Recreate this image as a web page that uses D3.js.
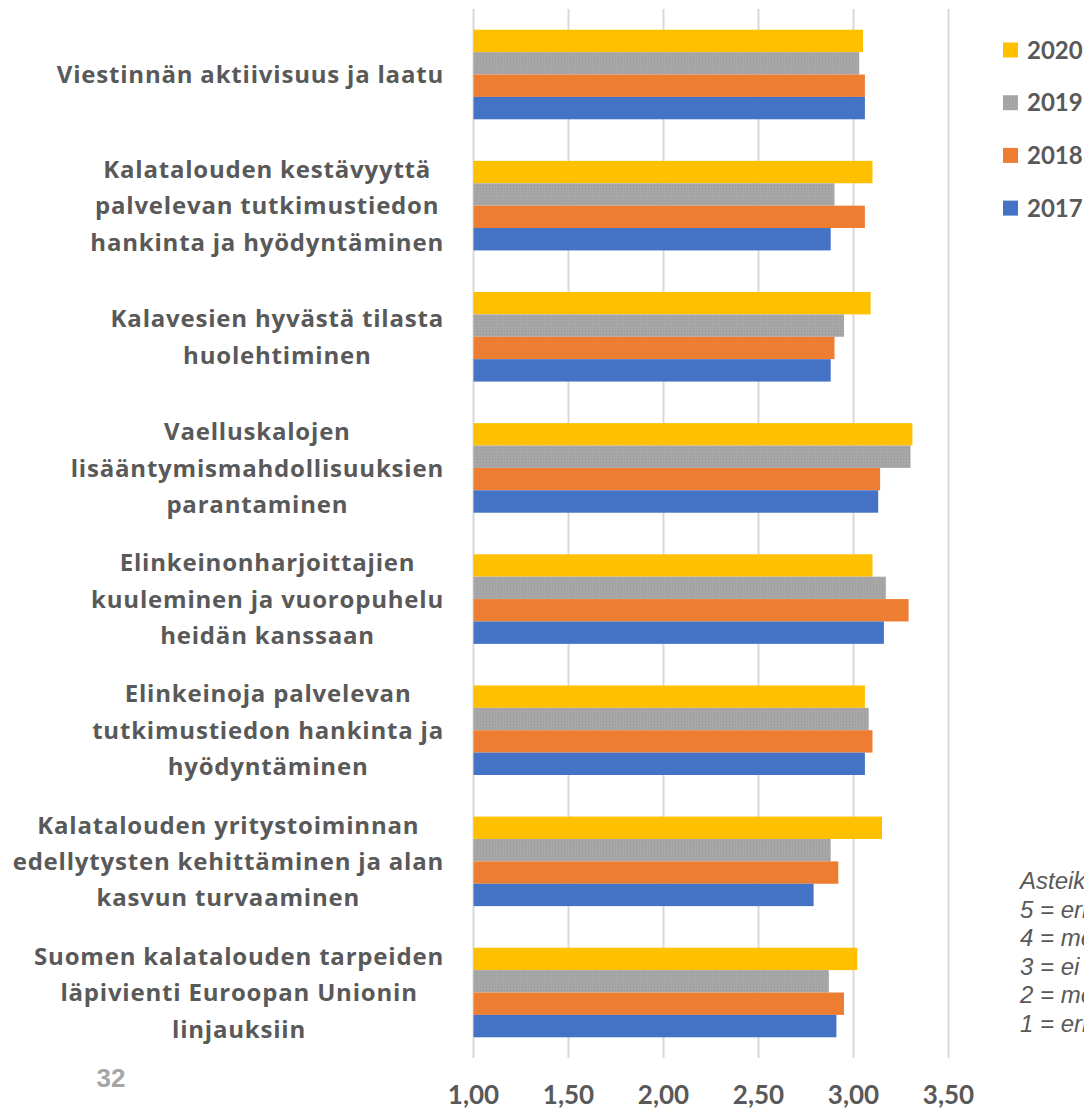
<!DOCTYPE html>
<html>
<head>
<meta charset="utf-8">
<script src="https://cdnjs.cloudflare.com/ajax/libs/d3/7.8.5/d3.min.js"></script>
<style>
  body { margin: 0; background: #fff; }
  svg { display: block; }
</style>
</head>
<body>
<svg id="chart"></svg>
<script>
// Categories (top to bottom)
const categories = [
  ["Viestinnän aktiivisuus ja laatu"],
  ["Kalatalouden kestävyyttä", "palvelevan tutkimustiedon", "hankinta ja hyödyntäminen"],
  ["Kalavesien hyvästä tilasta", "huolehtiminen"],
  ["Vaelluskalojen", "lisääntymismahdollisuuksien", "parantaminen"],
  ["Elinkeinonharjoittajien", "kuuleminen ja vuoropuhelu", "heidän kanssaan"],
  ["Elinkeinoja palvelevan", "tutkimustiedon hankinta ja", "hyödyntäminen"],
  ["Kalatalouden yritystoiminnan", "edellytysten kehittäminen ja alan", "kasvun turvaaminen"],
  ["Suomen kalatalouden tarpeiden", "läpivienti Euroopan Unionin", "linjauksiin"]
];

const years = ["2020", "2019", "2018", "2017"];

const values2020 = [3.05, 3.10, 3.09, 3.31, 3.10, 3.06, 3.15, 3.02];
const values2019 = [3.03, 2.90, 2.95, 3.30, 3.17, 3.08, 2.88, 2.87];
const values2018 = [3.06, 3.06, 2.90, 3.14, 3.29, 3.10, 2.92, 2.95];
const values2017 = [3.06, 2.88, 2.88, 3.13, 3.16, 3.06, 2.79, 2.91];

const tickValues = [1.0, 1.5, 2.0, 2.5, 3.0, 3.5];

const noteLines = [
  "Asteikko:",
  "5 = erittäin hyvin",
  "4 = melko hyvin",
  "3 = ei hyvin eikä huonosti",
  "2 = melko huonosti",
  "1 = erittäin huonosti"
];

const pageNumber = "32";

const seriesValues = { "2020": values2020, "2019": values2019, "2018": values2018, "2017": values2017 };
const colors = { "2020": "#FFC000", "2019": "url(#grayTex)", "2018": "#ED7D31", "2017": "#4472C4" };

const width = 1084, height = 1112;
const textColor = "#595959";

const svg = d3.select("#chart").attr("width", width).attr("height", height);

// textured gray fill for 2019
const defs = svg.append("defs");
const pat = defs.append("pattern").attr("id", "grayTex")
  .attr("patternUnits", "userSpaceOnUse").attr("width", 3).attr("height", 3);
pat.append("rect").attr("width", 3).attr("height", 3).attr("fill", "#A5A5A5");
pat.append("rect").attr("x", 0).attr("y", 0).attr("width", 1).attr("height", 1).attr("fill", "#9A9A9A");
pat.append("rect").attr("x", 1.5).attr("y", 1.5).attr("width", 1).attr("height", 1).attr("fill", "#B0B0B0");

const x = d3.scaleLinear().domain([1, 3]).range([473.5, 853.5]);

const y = d3.scaleBand()
  .domain(d3.range(categories.length))
  .range([9, 1058])
  .paddingInner(0.317)
  .paddingOuter(0.158);

const yInner = d3.scaleBand().domain(years).range([0, y.bandwidth()]);

// gridlines
svg.append("g")
  .selectAll("line")
  .data(tickValues)
  .join("line")
  .attr("x1", d => x(d)).attr("x2", d => x(d))
  .attr("y1", 9).attr("y2", 1058)
  .attr("stroke", "#D9D9D9")
  .attr("stroke-width", 2);

// bars
const groups = svg.append("g")
  .selectAll("g")
  .data(categories)
  .join("g")
  .attr("transform", (d, i) => `translate(0,${y(i)})`);

groups.selectAll("rect")
  .data((d, i) => years.map(yr => ({ yr, v: seriesValues[yr][i] })))
  .join("rect")
  .attr("x", x(1))
  .attr("y", d => yInner(d.yr))
  .attr("width", d => x(d.v) - x(1))
  .attr("height", yInner.bandwidth())
  .attr("fill", d => colors[d.yr]);

// category labels: lines centered on each other, longest line ends at 444
const labelFont = 24, lineH = 36.5, rightEdge = 444;
groups.each(function (lines) {
  const g = d3.select(this);
  const cy = y.bandwidth() / 2;
  const texts = g.selectAll("text.cat")
    .data(lines)
    .join("text")
    .attr("class", "cat")
    .attr("y", (d, j) => cy + (j - (lines.length - 1) / 2) * lineH)
    .attr("dy", "0.36em")
    .attr("text-anchor", "middle")
    .attr("font-family", "'Open Sans', 'Noto Sans', sans-serif")
    .attr("font-weight", "bold")
    .attr("font-size", labelFont)
    .attr("letter-spacing", 0.8)
    .attr("fill", textColor)
    .text(d => d);
  let maxW = 0;
  texts.each(function () { maxW = Math.max(maxW, this.getComputedTextLength()); });
  texts.attr("x", rightEdge - maxW / 2);
});

// x axis tick labels
svg.append("g")
  .selectAll("text")
  .data(tickValues)
  .join("text")
  .attr("x", d => x(d))
  .attr("y", 1104)
  .attr("text-anchor", "middle")
  .attr("font-family", "Lato, 'Open Sans', sans-serif")
  .attr("font-weight", "bold")
  .attr("font-size", 26)
  .attr("fill", textColor)
  .text(d => d3.format(".2f")(d).replace(".", ","));

// legend
const legend = svg.append("g")
  .selectAll("g")
  .data(years)
  .join("g")
  .attr("transform", (d, i) => `translate(1003,${50 + i * 52.7})`);

legend.append("rect")
  .attr("x", 0).attr("y", -7.5)
  .attr("width", 15).attr("height", 15)
  .attr("fill", d => colors[d]);

legend.append("text")
  .attr("x", 24).attr("y", 0).attr("dy", "0.36em")
  .attr("font-family", "Lato, 'Open Sans', sans-serif")
  .attr("font-weight", "bold")
  .attr("font-size", 24)
  .attr("fill", textColor)
  .text(d => d);

// scale note (runs off the right edge, as in the source)
svg.append("g")
  .selectAll("text")
  .data(noteLines)
  .join("text")
  .attr("x", 1020)
  .attr("y", (d, i) => 889 + i * 28.6)
  .attr("font-family", "'Liberation Sans', Arial, sans-serif")
  .attr("font-style", "italic")
  .attr("font-size", 24)
  .attr("fill", textColor)
  .text(d => d);

// page number
svg.append("text")
  .attr("x", 111).attr("y", 1087)
  .attr("text-anchor", "middle")
  .attr("font-family", "'Liberation Sans', Arial, sans-serif")
  .attr("font-weight", "bold")
  .attr("font-size", 26)
  .attr("fill", "#A6A6A6")
  .text(pageNumber);
</script>
</body>
</html>
